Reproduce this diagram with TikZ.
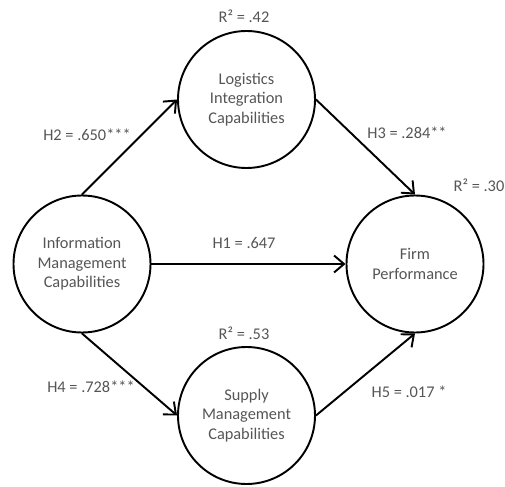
\documentclass[tikz,border=0pt]{standalone}
\usepackage{fontspec}
\setmainfont{Carlito}
\usepackage{tikz}
\usetikzlibrary{arrows.meta}
\definecolor{txtgray}{RGB}{85,85,85}

\begin{document}
\begin{tikzpicture}[line cap=round,line join=round,>={Straight Barb[length=2mm,width=3.4mm]},x=1.0cm,y=1.0cm,
  construct/.style={circle,draw=black,line width=1.1pt,minimum size=2.74cm,inner sep=0pt,align=center,text=txtgray,font=\fontsize{9.3}{11.1}\selectfont},
  lbl/.style={text=txtgray,font=\fontsize{9.3}{11.1}\selectfont,inner sep=0pt},
  path/.style={->,line width=1.1pt}]
\useasboundingbox (0,0) rectangle (10.1,9.72);
\node[construct] (imc) at (1.64,4.44) {Information\\Management\\Capabilities};
\node[construct] (lic) at (4.93,7.73) {Logistics\\Integration\\Capabilities};
\node[construct] (fp) at (8.30,4.44) {Firm\\Performance};
\node[construct] (smc) at (4.93,1.41) {Supply\\Management\\Capabilities};
\draw [path] (imc.north) -- (lic.west);
\draw [path] (lic.east) -- (fp.north);
\draw [path] (imc.east) -- (fp.west);
\draw [path] (imc.south) -- (smc.west);
\draw [path] (smc.east) -- (fp.south);
\node[lbl] (r2lic) at (4.88,9.40) {R² = .42};
\node[lbl] (r2fp) at (9.58,6.02) {R² = .30};
\node[lbl] (r2smc) at (4.88,3.06) {R² = .53};
\node[lbl] (h1) at (4.88,4.86) {H1 = .647};
\node[lbl] (h2) at (1.74,7.02) {H2 = .650***};
\node[lbl] (h3) at (8.14,7.06) {H3 = .284**};
\node[lbl] (h4) at (1.82,1.98) {H4 = .728***};
\node[lbl] (h5) at (8.18,1.88) {H5 = .017 *};
\end{tikzpicture}
\end{document}
